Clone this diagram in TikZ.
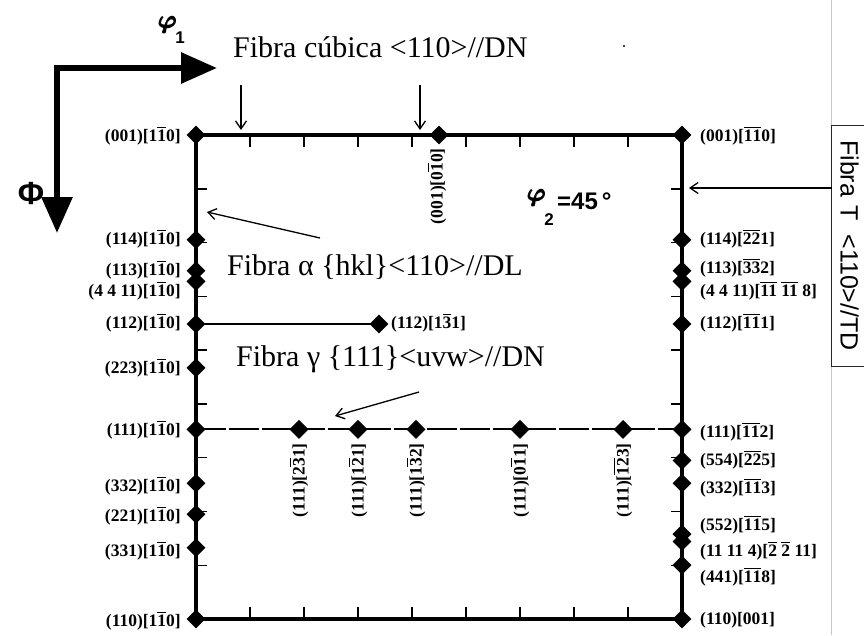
\documentclass[tikz,border=0pt]{standalone}
\usepackage{amsmath}
\usepackage{fontspec}
\setmainfont{Liberation Serif}
\newfontfamily\arialf{Liberation Sans}
\usetikzlibrary{arrows.meta,shapes.geometric}
\newcommand\ovb[1]{$\overline{\mbox{#1}}$}
\begin{document}
\begin{tikzpicture}[x=1pt,y=-1pt,
  dmd/.style={diamond,fill=black,inner sep=0pt,minimum width=19pt,minimum height=19pt},
  lbl/.style={font=\fontsize{17.5}{17.5}\selectfont\bfseries,inner sep=0pt},
  fib/.style={font=\fontsize{30}{30}\selectfont,inner sep=0pt},
  frameline/.style={line width=4pt,line join=miter},
  tickline/.style={line width=1.5pt},
  ptr/.style={line width=1.3pt,-{Straight Barb[length=8pt,width=11pt]}},
  axisline/.style={line width=6pt,line join=miter,{Triangle[length=36pt,width=30pt]}-{Triangle[length=36pt,width=30pt]}},
  gline/.style={line width=2pt,dash pattern=on 30pt off 3pt},
  sym/.style={inner sep=0pt}
]
\useasboundingbox (0,0) rectangle (864,635);

% faint scan line on the right
\draw[gray!45,line width=0.8pt] (831,0) -- (831,635);
\fill (624,46) circle (1.2);

% axes
\coordinate (axC) at (57,68);
\coordinate (axR) at (217,68);
\coordinate (axD) at (57,233);
\draw[axisline] (axD) -- (axC) -- (axR);
\node[sym,font=\fontsize{34}{34}\selectfont\boldmath] (phi1) at (168,25) {$\pmb{\varphi}$};
\node[sym,font=\arialf\bfseries\fontsize{17}{17}\selectfont] (phi1s) at (180,38) {1};
\node[sym,font=\arialf\bfseries\fontsize{32}{32}\selectfont] (Phi) at (31,193) {Φ};

% frame coordinates
\coordinate (cTL) at (196,135);
\coordinate (cTR) at (682,135);
\coordinate (cBL) at (196,619);
\coordinate (cBR) at (682,619);
\coordinate (cTM) at (439,135);
\coordinate (L114) at (196,239.7);
\coordinate (L113) at (196,270.7);
\coordinate (L4411) at (196,281.4);
\coordinate (L112) at (196,324);
\coordinate (L223) at (196,367.9);
\coordinate (L111) at (196,429.4);
\coordinate (L332) at (196,483.3);
\coordinate (L221) at (196,514.3);
\coordinate (L331) at (196,547.7);
\coordinate (R114) at (682,239.7);
\coordinate (R113) at (682,270.7);
\coordinate (R4411) at (682,281.4);
\coordinate (R112) at (682,324);
\coordinate (R111) at (682,429.4);
\coordinate (R554) at (682,460.4);
\coordinate (R332) at (682,483.3);
\coordinate (R552) at (682,534.1);
\coordinate (R11114) at (682,541.5);
\coordinate (R441) at (682,565.1);
\coordinate (A131) at (379,324);
\coordinate (G1) at (299,429.4);
\coordinate (G2) at (358,429.4);
\coordinate (G3) at (416,429.4);
\coordinate (G4) at (520,429.4);
\coordinate (G5) at (623,429.4);

% ticks
\foreach \i in {1,...,8} {
  \draw[tickline] ({196+54*\i},135) -- ++(0,12);
  \draw[tickline] ({196+54*\i},619) -- ++(0,-12);
  \draw[tickline] (196,{135+53.78*\i}) -- ++(11,0);
  \draw[tickline] (682,{135+53.78*\i}) -- ++(-11,0);
}

% frame and fibres
\draw[frameline] (cTL) -- (cTR) -- (cBR) -- (cBL) -- cycle;
\draw[line width=2.5pt] (L112) -- (A131);
\draw[gline] (L111) -- (R111);

% diamonds
\foreach \c in {cTL,cTR,cBL,cBR,cTM,L114,L113,L4411,L112,L223,L111,L332,L221,L331,
  R114,R113,R4411,R112,R111,R554,R332,R552,R11114,R441,A131,G1,G2,G3,G4,G5}
  \node[dmd] (d\c) at (\c) {};

% left labels
\node[lbl,anchor=east] (tL001) at (181,136) {(001)[1\ovb{1}0]};
\node[lbl,anchor=east] (tL114) at (181,239) {(114)[1\ovb{1}0]};
\node[lbl,anchor=east] (tL113) at (181,270) {(113)[1\ovb{1}0]};
\node[lbl,anchor=east] (tL4411) at (181,291) {(4 4 11)[1\ovb{1}0]};
\node[lbl,anchor=east] (tL112) at (181,323) {(112)[1\ovb{1}0]};
\node[lbl,anchor=east] (tL223) at (181,368) {(223)[1\ovb{1}0]};
\node[lbl,anchor=east] (tL111) at (181,430) {(111)[1\ovb{1}0]};
\node[lbl,anchor=east] (tL332) at (181,486) {(332)[1\ovb{1}0]};
\node[lbl,anchor=east] (tL221) at (181,516) {(221)[1\ovb{1}0]};
\node[lbl,anchor=east] (tL331) at (181,551) {(331)[1\ovb{1}0]};
\node[lbl,anchor=east] (tL110) at (181,621) {(110)[1\ovb{1}0]};

% right labels
\node[lbl,anchor=west] (tR001) at (700,136) {(001)[\ovb{1}\ovb{1}0]};
\node[lbl,anchor=west] (tR114) at (700,239) {(114)[\ovb{2}\ovb{2}1]};
\node[lbl,anchor=west] (tR113) at (700,268) {(113)[\ovb{3}\ovb{3}2]};
\node[lbl,anchor=west] (tR4411) at (700,291) {(4 4 11)[\ovb{11} \ovb{11} 8]};
\node[lbl,anchor=west] (tR112) at (700,323) {(112)[\ovb{1}\ovb{1}1]};
\node[lbl,anchor=west] (tR111) at (700,432) {(111)[\ovb{1}\ovb{1}2]};
\node[lbl,anchor=west] (tR554) at (700,460) {(554)[\ovb{2}\ovb{2}5]};
\node[lbl,anchor=west] (tR332) at (700,488) {(332)[\ovb{1}\ovb{1}3]};
\node[lbl,anchor=west] (tR552) at (700,525) {(552)[\ovb{1}\ovb{1}5]};
\node[lbl,anchor=west] (tR11114) at (700,551) {(11 11 4)[\ovb{2} \ovb{2} 11]};
\node[lbl,anchor=west] (tR441) at (700,577) {(441)[\ovb{1}\ovb{1}8]};
\node[lbl,anchor=west] (tR110) at (700,620) {(110)[001]};

% inner labels
\node[lbl,anchor=west] (tA131) at (391,323) {(112)[1\ovb{3}1]};
\node[lbl,rotate=90,anchor=east] (tTM) at (437,148) {(001)[0\ovb{1}0]};
\node[lbl,rotate=90,anchor=east] (tG1) at (299,443) {(111)[2\ovb{3}1]};
\node[lbl,rotate=90,anchor=east] (tG2) at (358,443) {(111)[1\ovb{2}1]};
\node[lbl,rotate=90,anchor=east] (tG3) at (416,443) {(111)[1\ovb{3}2]};
\node[lbl,rotate=90,anchor=east] (tG4) at (520,443) {(111)[0\ovb{1}1]};
\node[lbl,rotate=90,anchor=east] (tG5) at (623,443) {(111)[\ovb{1}\ovb{2}3]};

% phi2 = 45
\node[sym,font=\fontsize{30}{30}\selectfont\boldmath] (phi2) at (537,198) {$\pmb{\varphi}$};
\node[sym,font=\arialf\bfseries\fontsize{17}{17}\selectfont] (phi2s) at (549,220) {2};
\node[sym,anchor=west,font=\arialf\bfseries\fontsize{24}{24}\selectfont] (eq45) at (557,201) {=45\,°};

% fibre annotations
\node[fib,anchor=base west] (fcub) at (233,57) {Fibra cúbica <110>//DN};
\node[fib,anchor=base west] (falpha) at (227,275) {Fibra α \{hkl\}<110>//DL};
\node[fib,anchor=base west] (fgamma) at (236,366) {Fibra γ \{111\}<uvw>//DN};
\node[draw=black!85,line width=0.8pt,rotate=-90,minimum width=241pt,minimum height=36pt,inner sep=0pt,
  font=\arialf\fontsize{25}{25}\selectfont] (fibT) at (849.5,245.5) {Fibra\hspace{8pt}T\hspace{14pt}<110>//TD};

\coordinate (pc1s) at (241,85);
\coordinate (pc1e) at (241,130);
\coordinate (pc2s) at (420,85);
\coordinate (pc2e) at (420,130);
\coordinate (pTs) at (831.5,188);
\coordinate (pTe) at (689,188);
\coordinate (pAs) at (320,238);
\coordinate (pAe) at (207,212);
\coordinate (pGs) at (419,392);
\coordinate (pGe) at (335,416);
\draw[ptr] (pc1s) -- (pc1e);
\draw[ptr] (pc2s) -- (pc2e);
\draw[ptr] (pTs) -- (pTe);
\draw[ptr] (pAs) -- (pAe);
\draw[ptr] (pGs) -- (pGe);
\end{tikzpicture}
\end{document}
